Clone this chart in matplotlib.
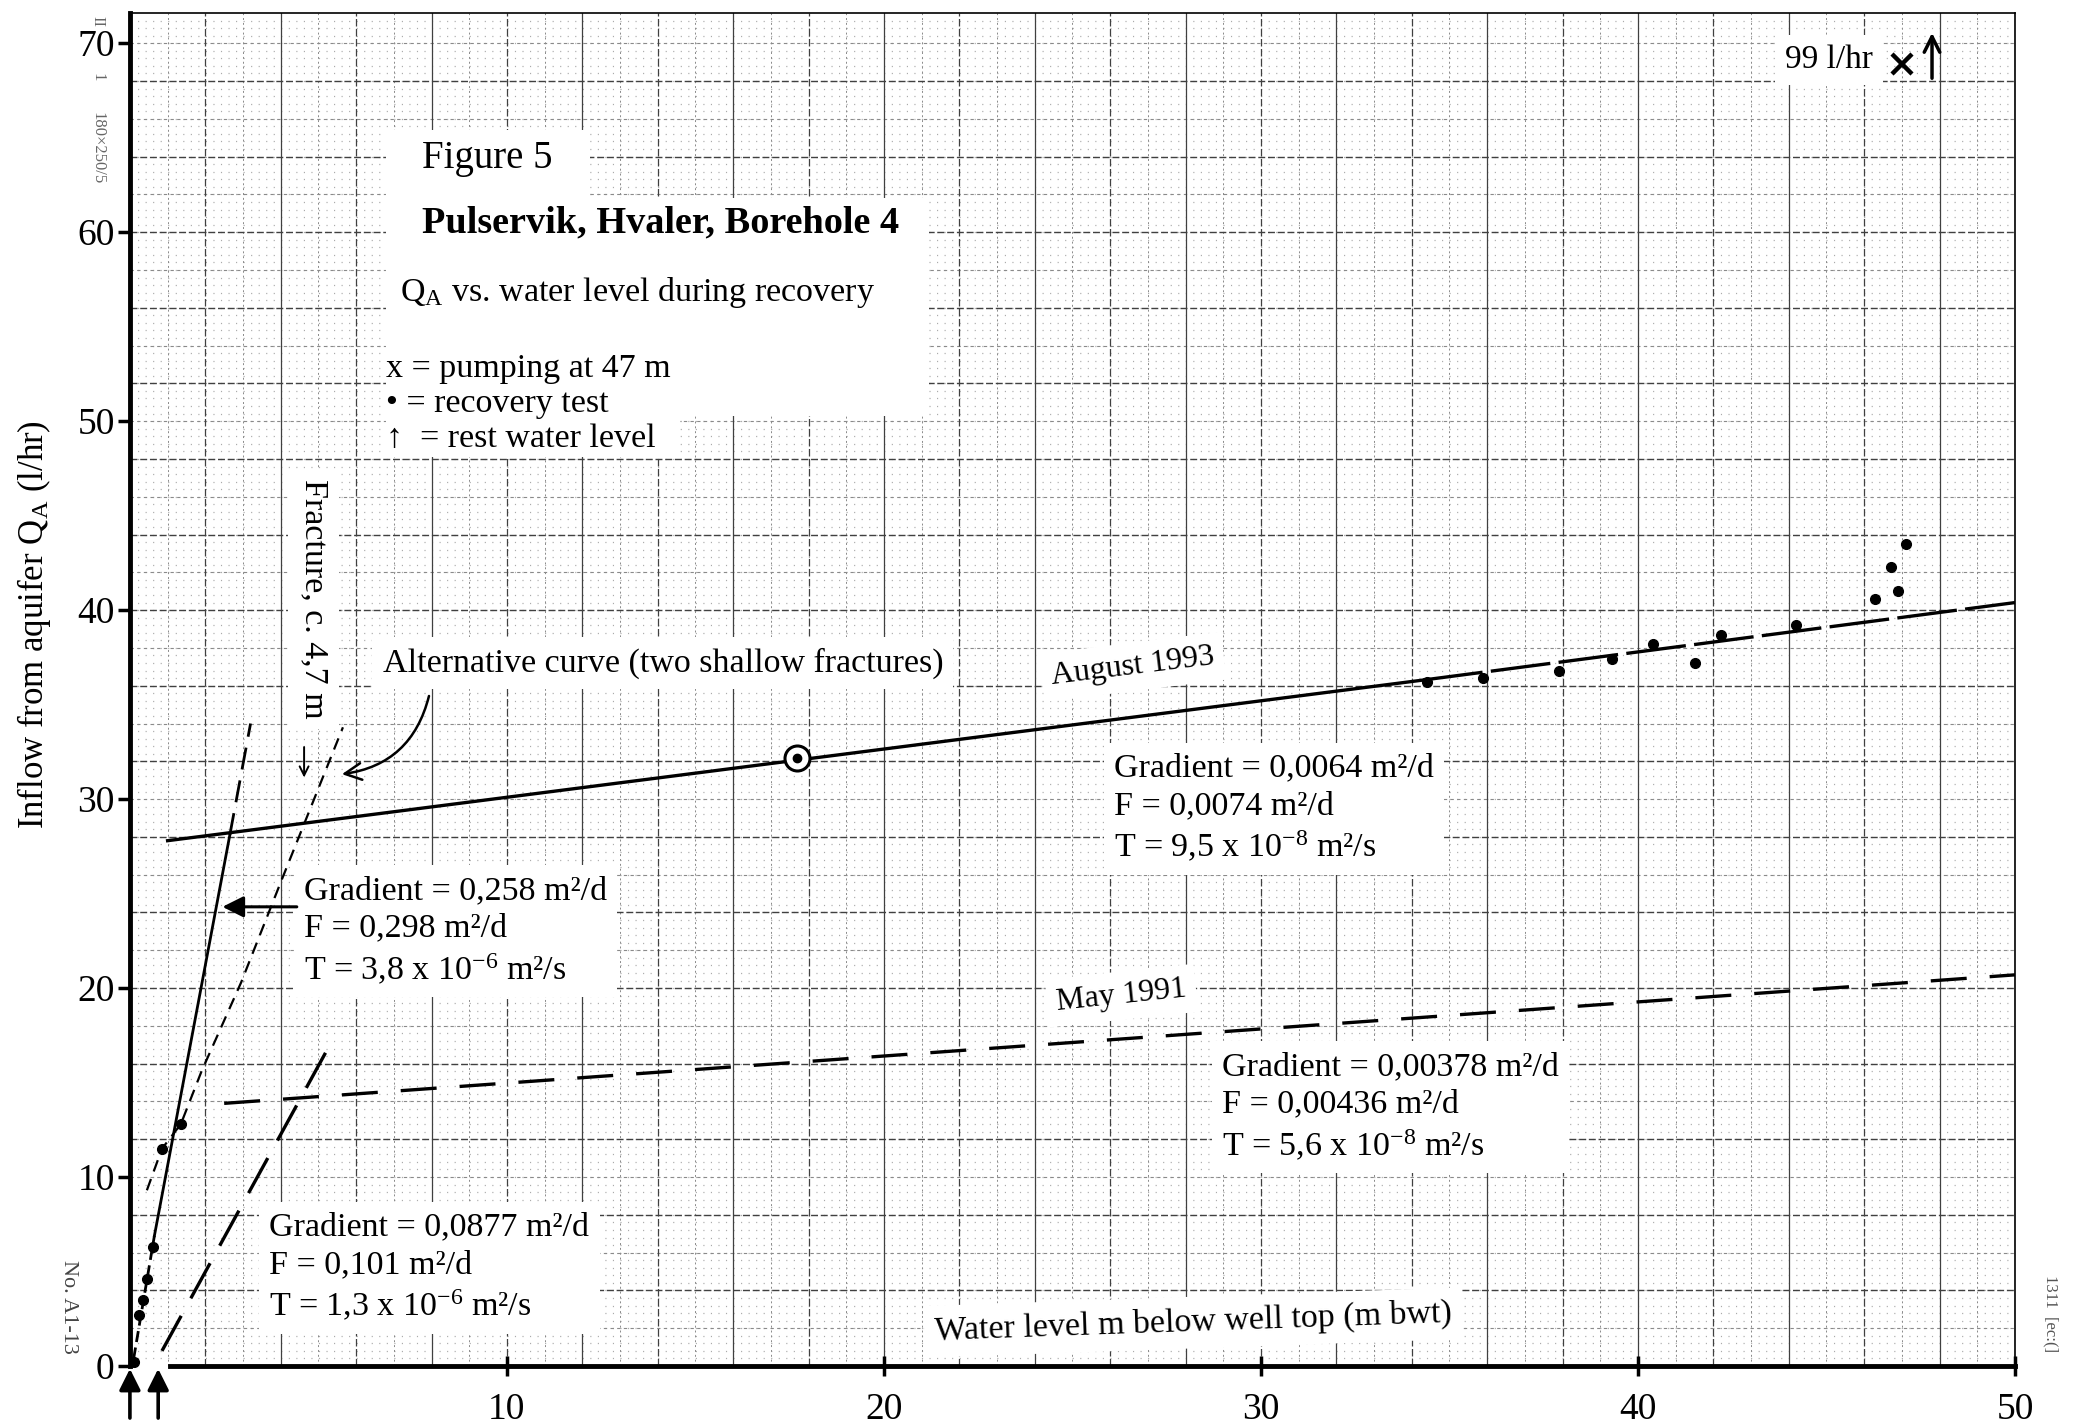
import matplotlib
matplotlib.use("Agg")
import matplotlib.pyplot as plt
import numpy as np
from matplotlib.patches import Rectangle, FancyArrowPatch

plt.rcParams["font.family"] = ["Liberation Serif", "DejaVu Serif"]
plt.rcParams["mathtext.fontset"] = "custom"
plt.rcParams["mathtext.rm"] = "Liberation Serif"
plt.rcParams["mathtext.it"] = "Liberation Serif:italic"
plt.rcParams["mathtext.bf"] = "Liberation Serif:bold"

# ---- values ----------------------------------------------------------------
# recovery test August 1993, deep part (m bwt, l/hr)
aug_depth = [34.4, 35.9, 37.9, 39.3, 40.4, 41.5, 42.2, 44.2, 46.3, 46.7, 46.9, 47.1]
aug_inflow = [36.2, 36.4, 36.8, 37.4, 38.2, 37.2, 38.7, 39.2, 40.6, 42.3, 41.0, 43.5]
# recovery test, first metres below rest level
early_depth = [0.10, 0.25, 0.35, 0.45, 0.60, 0.85, 1.35]
early_inflow = [0.2, 2.7, 3.5, 4.6, 6.3, 11.5, 12.8]
circled_depth = [17.7]
circled_inflow = [32.2]
# pumping at 47 m: 99 l/hr, off scale -> drawn at top edge
pump_depth = [47.0]
pump_inflow = [99.0]
rest_level = [0.0, 0.75]

# fitted lines (end and break points)
aug_fit_x = [1.0, 34.3, 50.0]
aug_fit_y = [27.8, 36.3, 40.4]
may_fit_x = [2.5, 50.0]
may_fit_y = [13.9, 20.7]
frac_fit_x = [0.1, 0.65, 2.65, 3.2]
frac_fit_y = [0.4, 6.9, 28.1, 34.0]
low_fit_x = [0.85, 5.25]
low_fit_y = [0.8, 16.8]
alt_x = [0.45, 0.85, 1.35, 1.9, 2.95, 4.0, 5.65]
alt_y = [9.3, 11.5, 12.8, 15.6, 20.3, 25.6, 33.8]

xticks = [10, 20, 30, 40, 50]
yticks = [0, 10, 20, 30, 40, 50, 60, 70]

fig = plt.figure(figsize=(20.82, 14.28), dpi=100)
fig.patch.set_facecolor("white")
ax = fig.add_axes([0.0624, 0.0434, 0.9054, 0.9475])
ax.set_xlim(0, 50)
ax.set_ylim(0, 71.6)

# ---- graph paper -----------------------------------------------------------
for gx in range(0, 51):
    if gx % 4 == 0:
        ax.axvline(gx, color="#404040", lw=0.9, zorder=0.5)
    elif gx % 2 == 0:
        ax.axvline(gx, color="#404040", lw=0.9, ls=(0, (6, 2)), zorder=0.5)
    else:
        ax.axvline(gx, color="#8a8a8a", lw=0.7, ls=(0, (2, 3)), zorder=0.4)
for gy in range(2, 72, 2):
    if gy % 4 == 0:
        ax.axhline(gy, color="#404040", lw=1.0, ls=(0, (5, 2)), zorder=0.5)
    else:
        ax.axhline(gy, color="#8a8a8a", lw=0.8, ls=(0, (3, 3)), zorder=0.4)
ax.hlines(np.arange(0.4, 71.6, 0.4), 0, 50, colors="#ababab", lw=0.9,
          linestyles=(0, (0.9, 5.13)), zorder=0.3)

# ---- fitted lines ----------------------------------------------------------
ax.plot(aug_fit_x[:2], aug_fit_y[:2], color="k", lw=2.4, zorder=3)
ax.plot(aug_fit_x[1:], aug_fit_y[1:], color="k", lw=2.4, ls=(0, (18, 2.5)), zorder=3)
ax.plot(may_fit_x, may_fit_y, color="k", lw=2.4, ls=(0, (10.8, 6.9)), zorder=3)
ax.plot(frac_fit_x[:2], frac_fit_y[:2], color="k", lw=2.0, ls=(0, (4, 2)), zorder=3)
ax.plot(frac_fit_x[1:3], frac_fit_y[1:3], color="k", lw=2.0, zorder=3)
ax.plot(frac_fit_x[2:], frac_fit_y[2:], color="k", lw=2.0, ls=(0, (8, 4)), zorder=3)
ax.plot(low_fit_x, low_fit_y, color="k", lw=2.4, ls=(0, (12, 6)), zorder=3)
ax.plot(alt_x, alt_y, color="k", lw=1.6, ls=(0, (5.4, 3.6)), zorder=3)

# ---- points ----------------------------------------------------------------
ax.plot(aug_depth, aug_inflow, "o", ms=7, color="k", zorder=4)
ax.plot(early_depth, early_inflow, "o", ms=7, color="k", zorder=4, clip_on=False)
ax.plot(circled_depth, circled_inflow, "o", ms=18, mfc="white", mec="k", mew=2.2, zorder=4)
ax.plot(circled_depth, circled_inflow, "o", ms=6, color="k", zorder=5)
pump_plot_y = [min(v, 68.9) for v in pump_inflow]
ax.plot(pump_depth, pump_plot_y, "x", ms=15, mew=3.2, color="k", zorder=5)
ax.annotate("", xy=(pump_depth[0] + 0.8, 70.7), xytext=(pump_depth[0] + 0.8, 68.0),
            arrowprops=dict(arrowstyle="->", lw=2.5, color="k", mutation_scale=28), zorder=5)
for r in rest_level:
    ax.annotate("", xy=(r, 0), xytext=(r, -2.9),
                arrowprops=dict(arrowstyle="-|>", lw=2.6, color="k", mutation_scale=32),
                annotation_clip=False, zorder=6)

# ---- axes ------------------------------------------------------------------
ax.set_xticks(xticks)
ax.set_yticks(yticks)
ax.tick_params(axis="y", direction="out", length=9, width=2.5, pad=2, labelsize=27)
ax.tick_params(axis="x", direction="inout", length=14, width=2.5, pad=12, labelsize=27)
ax.spines["left"].set_linewidth(3.5)
ax.spines["bottom"].set_linewidth(3.5)
ax.spines["bottom"].set_bounds(1.05, 50)
ax.spines["top"].set_linewidth(1.2)
ax.spines["right"].set_linewidth(1.2)
ax.set_ylabel("Inflow from aquifer Q$_\\mathrm{A}$ (l/hr)", fontsize=25)
ax.yaxis.set_label_coords(-0.041, 0.548)

# ---- labels on white paste-up patches --------------------------------------
WB = dict(boxstyle="square,pad=0.3", fc="white", ec="none")
FS = 24.5


def note(x, y, s, fs=FS, rot=0, ha="left", **kw):
    ax.text(x, y, s, fontsize=fs, ha=ha, va="center", rotation=rot,
            rotation_mode="anchor", linespacing=1.3, zorder=7, bbox=WB, **kw)


ax.add_patch(Rectangle((6.8, 61.8), 5.4, 3.6, fc="white", ec="none", zorder=6))
ax.add_patch(Rectangle((6.8, 50.3), 14.4, 11.5, fc="white", ec="none", zorder=6))
ax.add_patch(Rectangle((6.8, 48.1), 7.8, 2.3, fc="white", ec="none", zorder=6))
ax.text(7.76, 63.9, "Figure 5", fontsize=28, va="center", zorder=7)
ax.text(7.76, 60.5, "Pulservik, Hvaler, Borehole 4", fontsize=27.5,
        fontweight="bold", va="center", zorder=7)
ax.text(7.16, 56.8, "Q$_\\mathrm{A}$ vs. water level during recovery", fontsize=FS,
        va="center", zorder=7)
ax.text(6.8, 52.8, "x = pumping at 47 m", fontsize=FS, va="center", zorder=7)
ax.text(6.8, 50.9, "\u2022 = recovery test", fontsize=FS, va="center", zorder=7)
ax.text(6.8, 49.05, "\u2191  = rest water level", fontsize=FS, va="center", zorder=7,
        family=["Liberation Serif", "DejaVu Sans"])

note(6.7, 37.2, "Alternative curve (two shallow fractures)")
note(4.87, 40.6, "Fracture, c. 4,7 m", rot=270, ha="center")
note(26.6, 37.0, "August 1993", fs=23, rot=7, ha="center")
note(26.3, 19.6, "May 1991", fs=23, rot=6, ha="center")
note(26.1, 29.5, "Gradient = 0,0064 m²/d\nF = 0,0074 m²/d\nT = 9,5 x 10$^{-8}$ m²/s")
note(4.62, 23.0, "Gradient = 0,258 m²/d\nF = 0,298 m²/d\nT = 3,8 x 10$^{-6}$ m²/s")
note(28.97, 13.7, "Gradient = 0,00378 m²/d\nF = 0,00436 m²/d\nT = 5,6 x 10$^{-8}$ m²/s")
note(3.7, 5.2, "Gradient = 0,0877 m²/d\nF = 0,101 m²/d\nT = 1,3 x 10$^{-6}$ m²/s")
note(28.2, 2.3, "Water level m below well top (m bwt)", rot=2, ha="center")
note(43.9, 69.1, "99 l/hr", fs=24)

# pointer arrows
ax.annotate("", xy=(2.38, 24.3), xytext=(4.5, 24.3),
            arrowprops=dict(arrowstyle="-|>", lw=2.2, color="k", mutation_scale=32), zorder=8)
ax.add_patch(FancyArrowPatch((7.95, 35.6), (5.55, 31.3), connectionstyle="arc3,rad=-0.35",
                             arrowstyle="->", mutation_scale=30, lw=1.8, color="k", zorder=8))
ax.annotate("", xy=(4.62, 31.0), xytext=(4.62, 32.9),
            arrowprops=dict(arrowstyle="->", lw=1.4, color="k", mutation_scale=16), zorder=8)

# paper margin print
fig.text(0.033, 0.085, "No. A1-13", rotation=270, fontsize=16, color="#444",
         ha="center", va="center")
fig.text(0.047, 0.985, "II", rotation=270, fontsize=12, color="#666",
         ha="center", va="center")
fig.text(0.047, 0.946, "1", rotation=270, fontsize=12, color="#666",
         ha="center", va="center")
fig.text(0.047, 0.896, "180\u00d7250/5", rotation=270, fontsize=12, color="#666",
         ha="center", va="center")
fig.text(0.985, 0.08, "1311  [ec:(]", rotation=270, fontsize=12, color="#555",
         ha="center", va="center")

fig.savefig("out.png", dpi=100, facecolor="white")
